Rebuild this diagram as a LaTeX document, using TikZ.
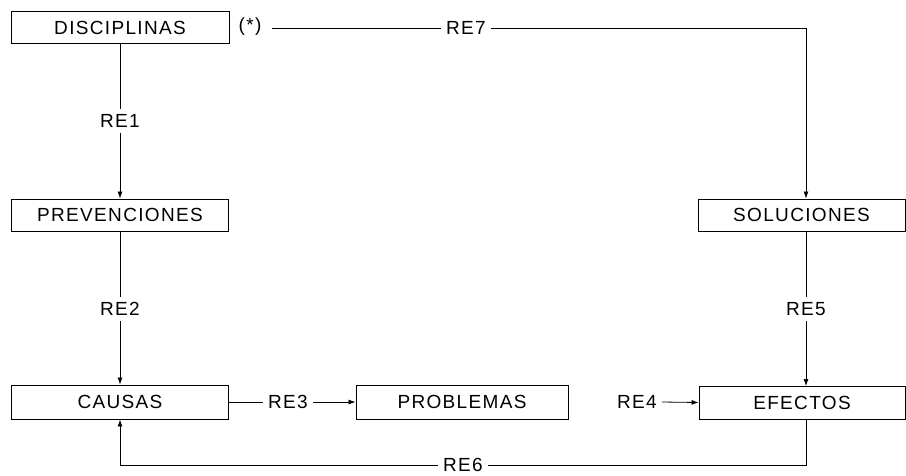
\documentclass[tikz,border=0pt]{standalone}
\usepackage{fontspec}
\setmainfont[LetterSpace=7]{Liberation Sans}
\usetikzlibrary{arrows.meta}
\begin{document}
\begin{tikzpicture}[x=1pt,y=-1pt,
  font=\fontsize{19}{22}\selectfont,
  box/.style={draw, line width=0.9pt, minimum height=32pt, inner sep=0pt, anchor=center},
  lbl/.style={inner sep=5pt},
  conn/.style={line width=0.8pt},
  arr/.style={conn, -{Latex[length=7pt,width=5pt]}}]
\useasboundingbox (0,0) rectangle (906,475);
% boxes
\node[box, minimum width=218pt] (dis) at (120,27.5) {DISCIPLINAS};
\node[box, minimum width=217pt] (prev) at (120,215) {PREVENCIONES};
\node[box, minimum width=217pt, minimum height=34pt] (caus) at (120,402) {CAUSAS};
\node[box, minimum width=212pt, minimum height=34pt] (prob) at (462,402) {PROBLEMAS};
\node[box, minimum width=207pt] (sol) at (801.5,215) {SOLUCIONES};
\node[box, minimum width=206pt, minimum height=33pt] (efe) at (802,402.5) {EFECTOS};
% labels
\node (ast) at (250,27) {(*)};
\node[lbl] (re1) at (120,121) {RE1};
\node[lbl] (re2) at (120,309) {RE2};
\node[lbl] (re3) at (288,402) {RE3};
\node[lbl] (re4) at (637,402) {RE4};
\node[lbl] (re5) at (806,309) {RE5};
\node[lbl, inner ysep=0pt] (re6) at (463,465) {RE6};
\node[lbl] (re7) at (466,28) {RE7};
% helper coordinates
\coordinate (c7a) at (272,28);
\coordinate (c7b) at (806,28);
\coordinate (solS) at (806,231);
\coordinate (efeN) at (806,386);
\coordinate (efeS) at (806,419);
\coordinate (c6b) at (806,465);
\coordinate (c6a) at (120,465);
% connectors
\draw[conn] (dis.south) -- (re1.north);
\draw[arr] (re1.south) -- (prev.north);
\draw[conn] (prev.south) -- (re2.north);
\draw[arr] (re2.south) -- (caus.north);
\draw[conn] (caus.east) -- (re3.west);
\draw[arr] (re3.east) -- (prob.west);
\draw[arr] (re4.east) -- (efe.west);
\draw[conn] (solS) -- (re5.north);
\draw[arr] (re5.south) -- (efeN);
\draw[conn] (c7a) -- (re7.west);
\draw[arr] (re7.east) -- (c7b) -- (sol.north -| c7b);
\draw[conn] (efeS) -- (c6b) -- (re6.east);
\draw[arr] (re6.west) -- (c6a) -- (caus.south);
\end{tikzpicture}
\end{document}
